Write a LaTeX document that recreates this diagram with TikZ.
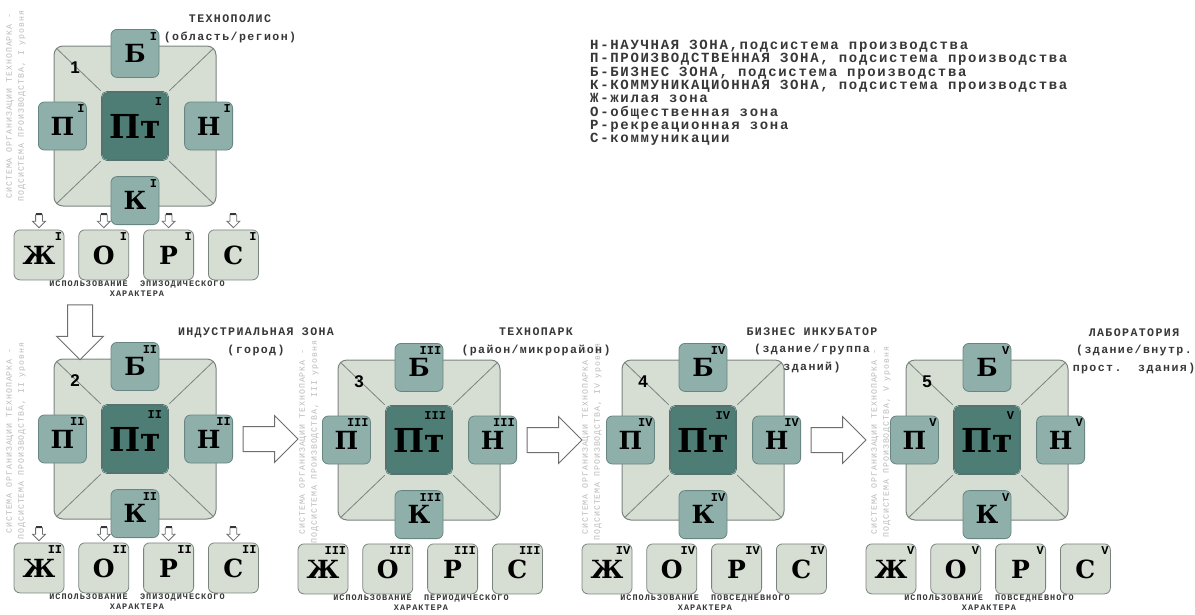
\documentclass[tikz,border=0pt]{standalone}
\usepackage{fontspec}
\usetikzlibrary{positioning,calc,shapes.arrows}
\newfontfamily\typefont[LetterSpace=12]{Liberation Mono}
\newfontfamily\romanfont{Liberation Mono}
\newfontfamily\slabfont{DejaVu Serif}
\newfontfamily\digitfont{Liberation Sans}
\definecolor{zonelight}{RGB}{214,221,211}
\definecolor{zoneedge}{RGB}{122,132,127}
\definecolor{subteal}{RGB}{143,176,170}
\definecolor{subedge}{RGB}{104,134,129}
\definecolor{coreteal}{RGB}{78,125,118}
\definecolor{coreedge}{RGB}{52,82,78}
\definecolor{inkgray}{RGB}{55,55,55}
\definecolor{sidegray}{RGB}{185,185,185}
\definecolor{arrowgray}{RGB}{110,110,110}

\begin{document}
\begin{tikzpicture}[x=1pt, y=-1pt,
  bigbox/.style={draw=zoneedge, fill=zonelight, line width=1pt, rounded corners=9pt, minimum width=162pt, minimum height=160pt},
  corebox/.style={draw=coreedge, double=subteal, double distance=0.8pt, fill=coreteal, rounded corners=5pt, minimum width=66pt, minimum height=68pt, inner sep=0pt, font=\slabfont\bfseries\fontsize{33}{33}\selectfont},
  subbox/.style={draw=subedge, fill=subteal, line width=0.8pt, rounded corners=6pt, minimum size=48pt, inner sep=0pt, font=\slabfont\bfseries\fontsize{25}{25}\selectfont},
  usebox/.style={draw=zoneedge, fill=zonelight, line width=0.8pt, rounded corners=6pt, minimum size=50pt, inner sep=0pt, font=\slabfont\bfseries\fontsize{25}{25}\selectfont},
  roman/.style={inner sep=0pt, anchor=north east, font=\romanfont\bfseries\fontsize{12}{12}\selectfont},
  diag/.style={zoneedge, line width=0.8pt},
  zonenum/.style={inner sep=0pt, font=\digitfont\bfseries\fontsize{17}{17}\selectfont},
  bigarr/.style={single arrow, draw=arrowgray, fill=white, line width=1pt, minimum height=55pt, single arrow head extend=11pt, inner sep=12pt},
  smallarr/.style={single arrow, shape border rotate=270, draw=arrowgray, fill=white, line width=0.8pt, minimum height=13pt, single arrow head extend=3pt, inner sep=3pt},
  stagetitle/.style={align=center, inner sep=0pt, text=inkgray, font=\typefont\bfseries\fontsize{11.6}{17.5}\selectfont},
  legendtxt/.style={align=left, inner sep=0pt, text=inkgray, font=\typefont\bfseries\fontsize{14}{13.3}\selectfont},
  usecaption/.style={align=center, inner sep=0pt, text=inkgray, font=\typefont\bfseries\fontsize{8.5}{10}\selectfont},
  sidenote/.style={align=center, inner sep=0pt, rotate=90, text=sidegray, font=\typefont\fontsize{8.2}{12}\selectfont}
]
\useasboundingbox (0,0) rectangle (1195,614);

\foreach \m/\mx/\my/\rn/\capt/\sidex/\sidey in {
  1/135/126/I/ЭПИЗОДИЧЕСКОГО/-119/-20,
  2/135/439/II/ЭПИЗОДИЧЕСКОГО/-119/2,
  3/419/440/III/ПЕРИОДИЧЕСКОГО/-110/2,
  4/703/440/IV/ПОВСЕДНЕВНОГО/-111/2,
  5/987/440/V/ПОВСЕДНЕВНОГО/-106/2}{
  \node[bigbox] (big\m) at (\mx,\my) {};
  \node[corebox] (pt\m) at (big\m.center) {Пт};
  \draw[diag, shorten <=3.7pt, shorten >=1.5pt] (big\m.north west) -- (pt\m.north west);
  \draw[diag, shorten <=3.7pt, shorten >=1.5pt] (big\m.north east) -- (pt\m.north east);
  \draw[diag, shorten <=3.7pt, shorten >=1.5pt] (big\m.south west) -- (pt\m.south west);
  \draw[diag, shorten <=3.7pt, shorten >=1.5pt] (big\m.south east) -- (pt\m.south east);
  \node[subbox, above=14pt of pt\m] (b\m) {Б};
  \node[subbox, left=15pt of pt\m] (p\m) {П};
  \node[subbox, right=16pt of pt\m] (n\m) {Н};
  \node[subbox, below=16pt of pt\m] (k\m) {К};
  \node[usebox, below=23pt of big\m, xshift=-96pt] (zh\m) {Ж};
  \node[usebox, right=14pt of zh\m] (o\m) {О};
  \node[usebox, right=14pt of o\m] (r\m) {Р};
  \node[usebox, right=14pt of r\m] (s\m) {С};
  \foreach \z in {b,p,n,k,zh,o,r,s}
    \node[roman] (rn\z\m) at ($(\z\m.north east)+(-2,3)$) {\rn};
  \node[roman] (rnpt\m) at ($(pt\m.north east)+(-6,6)$) {\rn};
  \node[zonenum] (num\m) at ($(big\m.center)+(-60,-58)$) {\m};
  \node[sidenote] (side\m) at ($(big\m.center)+(\sidex,\sidey)$) {СИСТЕМА ОРГАНИЗАЦИИ ТЕХНОПАРКА -\\ПОДСИСТЕМА ПРОИЗВОДСТВА, \rn{} уровня};
  \node[usecaption] (cap\m) at ($(big\m.center)+(2,163)$) {ИСПОЛЬЗОВАНИЕ\ \ \capt\\ХАРАКТЕРА};
}

\foreach \m in {1,2}
  \foreach \z in {zh,o,r,s}{
    \node[smallarr] (sa\z\m) at ($(\z\m.north)+(0,-10)$) {};
    \draw[inkgray, line width=2pt] ($(sa\z\m.tail)+(-3,0)$) -- ($(sa\z\m.tail)+(3,0)$);
  }

\node[bigarr, shape border rotate=270] (down12) at (80,326) {};
\node[bigarr, right=26pt of big2] (to23) {};
\node[bigarr, right=26pt of big3] (to34) {};
\node[bigarr, right=26pt of big4] (to45) {};

\node[stagetitle] (t1) at (230,29) {ТЕХНОПОЛИС\\(область/регион)};
\node[stagetitle] (t2) at (256,342) {ИНДУСТРИАЛЬНАЯ ЗОНА\\(город)};
\node[stagetitle] (t3) at (536,342) {ТЕХНОПАРК\\(район/микрорайон)};
\node[stagetitle] (t4) at (812,350) {БИЗНЕС ИНКУБАТОР\\(здание/группа\\зданий)};
\node[stagetitle] (t5) at (1134,351) {ЛАБОРАТОРИЯ\\(здание/внутр.\\прост.\ \ здания)};

\node[legendtxt, anchor=north west] (legend) at (590,40) {Н-НАУЧНАЯ ЗОНА,подсистема производства\\
П-ПРОИЗВОДСТВЕННАЯ ЗОНА, подсистема производства\\
Б-БИЗНЕС ЗОНА, подсистема производства\\
К-КОММУНИКАЦИОННАЯ ЗОНА, подсистема производства\\
Ж-жилая зона\\
О-общественная зона\\
Р-рекреационная зона\\
С-коммуникации};
\end{tikzpicture}
\end{document}
